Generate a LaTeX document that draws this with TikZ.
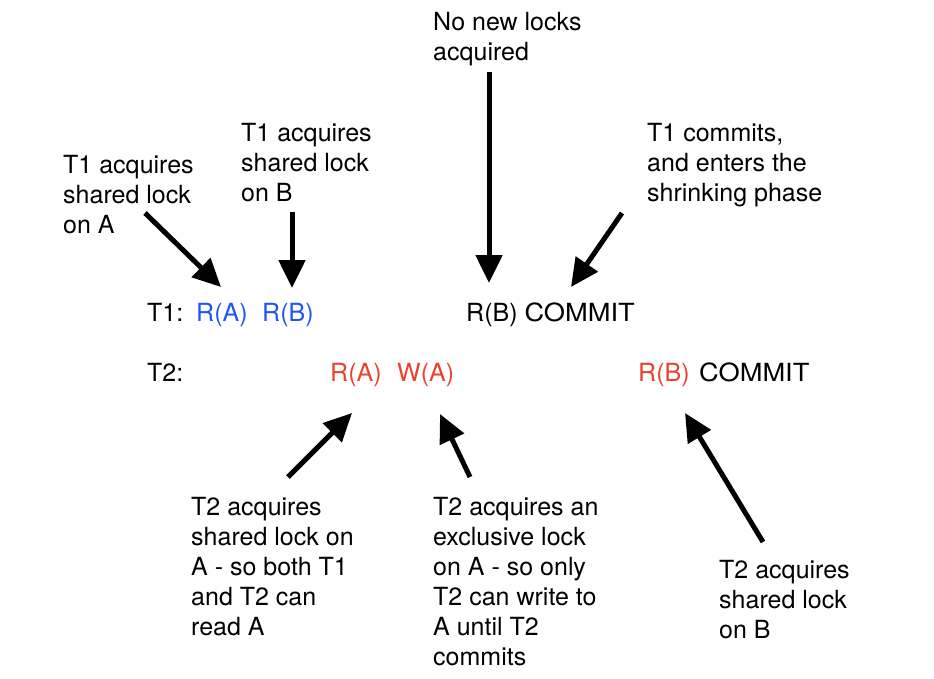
\documentclass[tikz,border=0pt]{standalone}
\usepackage{fontspec}
\setmainfont{TeX Gyre Heros}
\usetikzlibrary{arrows.meta}
\definecolor{tblue}{RGB}{30,85,245}
\definecolor{tred}{RGB}{235,65,45}
\newcommand{\wcommit}{\scalebox{1.09}[1]{COMMIT}}
\begin{document}
\begin{tikzpicture}[x=1pt,y=-1pt,
  every node/.style={font=\fontsize{25}{30}\selectfont, inner sep=0pt},
  lbl/.style={align=left, anchor=north west},
  op/.style={anchor=base west},
  arr/.style={line width=5pt, -{Triangle[length=28pt,width=26pt]}}]
\useasboundingbox (0,0) rectangle (934,678);
% annotation labels
\node[lbl] (nonew) at (433,12) {No new locks\\acquired};
\node[lbl] (t1b) at (241,123) {T1 acquires\\shared lock\\on B};
\node[lbl] (t1a) at (63,155) {T1 acquires\\shared lock\\on A};
\node[lbl] (t1c) at (647,123) {T1 commits,\\and enters the\\shrinking phase};
\node[lbl] (t2a) at (191,497) {T2 acquires\\shared lock on\\A - so both T1\\and T2 can\\read A};
\node[lbl] (t2w) at (433,497) {T2 acquires an\\exclusive lock\\on A - so only\\T2 can write to\\A until T2\\commits};
\node[lbl] (t2b) at (719,560) {T2 acquires\\shared lock\\on B};
% schedule
\node[op] (t1) at (147,321) {T1:};
\node[op,text=tblue] (r1a) at (196,321) {R(A)};
\node[op,text=tblue] (r1b) at (262,321) {R(B)};
\node[op] (r1b2) at (466,321) {R(B) \wcommit};
\node[op] (t2) at (147,381) {T2:};
\node[op,text=tred] (r2a) at (330,381) {R(A)};
\node[op,text=tred] (w2a) at (397,381) {W(A)};
\node[op,text=tred] (r2b) at (638,381) {R(B)};
\node[op] (c2) at (699,381) {\wcommit};
% arrow end points
\coordinate (a1s) at (145,213); \coordinate (a1e) at (221,287);
\coordinate (a2s) at (292,212); \coordinate (a2e) at (292,288);
\coordinate (a3s) at (489,72);  \coordinate (a3e) at (489,283);
\coordinate (a4s) at (622,213); \coordinate (a4e) at (571,287);
\coordinate (a5s) at (288,477); \coordinate (a5e) at (352,413);
\coordinate (a6s) at (470,477); \coordinate (a6e) at (440,414);
\coordinate (a7s) at (763,542); \coordinate (a7e) at (685,413);
\draw[arr] (a1s) -- (a1e);
\draw[arr] (a2s) -- (a2e);
\draw[arr] (a3s) -- (a3e);
\draw[arr] (a4s) -- (a4e);
\draw[arr] (a5s) -- (a5e);
\draw[arr] (a6s) -- (a6e);
\draw[arr] (a7s) -- (a7e);
\end{tikzpicture}
\end{document}
